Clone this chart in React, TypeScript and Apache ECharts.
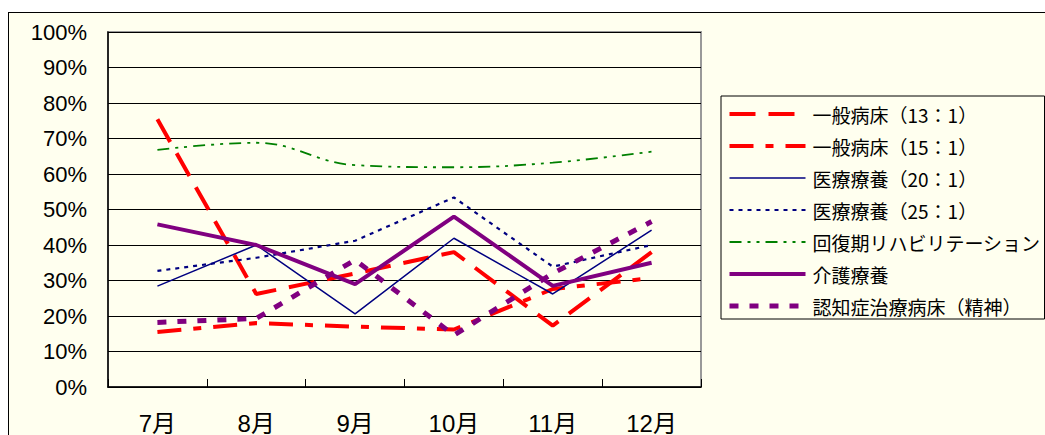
import React, { useEffect, useRef } from "react";
import * as echarts from "echarts";

const months = ["7月", "8月", "9月", "10月", "11月", "12月"];
const seriesNames = [
  "一般病床（13：1）",
  "一般病床（15：1）",
  "医療療養（20：1）",
  "医療療養（25：1）",
  "回復期リハビリテーション",
  "介護療養",
  "認知症治療病床（精神）",
];
const general13 = [75.4, 26.2, 32, 38, 17.3, 38];
const general15 = [15.5, 18, 17, 16.2, 27.6, 30.7];
const medical20 = [28.4, 40, 20.6, 41.9, 26.2, 44.2];
const medical25 = [32.7, 36.4, 41.2, 53.4, 33.9, 40];
const rehab = [66.8, 68.8, 62.5, 61.9, 63.2, 66.3];
const care = [45.8, 40, 29, 48, 28.5, 35];
const dementia = [18.2, 19.3, 35.8, 14.6, 32, 46.6];

const BG = "#FFFFEF";

export default function App() {
  const ref = useRef<HTMLDivElement>(null);
  useEffect(() => {
    if (!ref.current) return;
    const chart = echarts.init(ref.current, null, { renderer: "svg" });
    const styles = [
      { color: "#FF0000", width: 4, type: [26, 13] as any, smooth: false },
      { color: "#FF0000", width: 4, type: [24, 12, 8, 12] as any, smooth: false },
      { color: "#000080", width: 1.5, type: "solid" as any, smooth: false },
      { color: "#000080", width: 2.2, type: [4, 5] as any, smooth: false },
      { color: "#008000", width: 1.8, type: [12, 6, 3, 6, 3, 6] as any, smooth: 0.4 },
      { color: "#800080", width: 4, type: "solid" as any, smooth: false },
      { color: "#800080", width: 5, type: [9, 11] as any, smooth: false },
    ];
    const datas = [general13, general15, medical20, medical25, rehab, care, dementia];
    chart.setOption({
      animation: false,
      backgroundColor: "transparent",
      textStyle: { fontFamily: "'Liberation Sans', Arial, 'Noto Sans CJK JP', sans-serif" },
      grid: {
        left: 108,
        top: 32,
        width: 593,
        height: 355,
        show: true,
        backgroundColor: BG,
        borderColor: "#999999",
        borderWidth: 2,
      },
      legend: {
        orient: "vertical",
        left: 721,
        top: 96,
        backgroundColor: BG,
        borderColor: "#000",
        borderWidth: 1,
        borderRadius: 0,
        padding: [7, 4, 2, 6],
        itemWidth: 76,
        itemHeight: 14,
        itemGap: 10,
        selectedMode: false,
        textStyle: {
          fontFamily: "'Noto Sans CJK JP', sans-serif",
          fontSize: 19,
          lineHeight: 22,
          color: "#000",
          padding: [0, 0, 0, 2],
        },
        data: seriesNames.map((n, i) => ({
          name: n,
          itemStyle: { opacity: 0, borderWidth: 0 },
          lineStyle: { width: styles[i].width, type: styles[i].type, color: styles[i].color },
        })),
      },
      xAxis: {
        type: "category",
        data: months,
        boundaryGap: true,
        axisLine: { lineStyle: { color: "#000", width: 1.5 } },
        axisTick: { show: true, inside: true, length: 8, lineStyle: { color: "#000", width: 1 } },
        axisLabel: { fontSize: 24, color: "#000", margin: 24 },
        splitLine: { show: false },
      },
      yAxis: {
        type: "value",
        min: 0,
        max: 100,
        interval: 10,
        axisLine: { show: true, lineStyle: { color: "#000", width: 1.5 } },
        axisTick: { show: false },
        axisLabel: { fontSize: 22, color: "#000", margin: 21, formatter: "{value}%" },
        splitLine: { show: true, lineStyle: { color: "#000", width: 1 } },
      },
      series: datas.map((d, i) => ({
        name: seriesNames[i],
        type: "line",
        data: d,
        symbol: "none",
        smooth: styles[i].smooth,
        color: styles[i].color,
        lineStyle: { color: styles[i].color, width: styles[i].width, type: styles[i].type },
      })),
    });
    return () => chart.dispose();
  }, []);
  return (
    <div style={{ position: "fixed", left: 0, top: 0, width: 1045, height: 435, background: "#fff", overflow: "hidden" }}>
      <div
        style={{
          position: "absolute",
          left: 8,
          top: 12,
          width: 1100,
          height: 500,
          border: "1.5px solid #000",
          background: BG,
        }}
      />
      <div ref={ref} style={{ position: "absolute", left: 0, top: 0, width: 1045, height: 435 }} />
    </div>
  );
}
